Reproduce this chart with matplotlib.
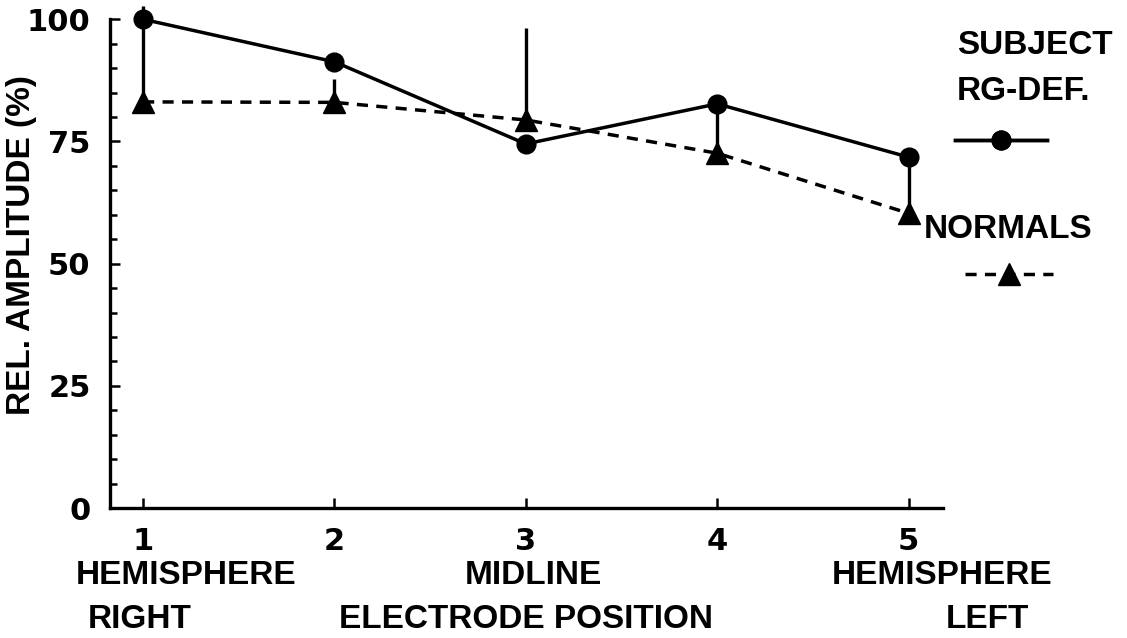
import matplotlib
matplotlib.use("Agg")
import matplotlib.pyplot as plt
import numpy as np

# electrode positions and relative amplitudes (%)
positions = [1, 2, 3, 4, 5]
subject = [100, 91.3, 74.5, 82.7, 71.8]
normals = [83.1, 83.0, 79.4, 72.6, 60.3]
normals_sd = [19.6, 4.8, 18.8, 10.1, 11.5]  # upper bars only
yticks = [0, 25, 50, 75, 100]

plt.rcParams['font.family'] = ['Liberation Sans', 'DejaVu Sans']
plt.rcParams['font.weight'] = 'bold'

fig = plt.figure(figsize=(11.27, 6.38), dpi=100)
ax = fig.add_axes([110 / 1127, 1 - 508 / 638, 833 / 1127, 488.7 / 638])

# error bars of the normals (upward only)
ax.errorbar(positions, normals, yerr=[np.zeros(len(normals)), normals_sd],
            fmt='none', ecolor='black', elinewidth=2.4, capsize=0,
            clip_on=False, zorder=2)

l_subj, = ax.plot(positions, subject, '-', color='black', lw=2.5,
                  marker='o', ms=13.5, clip_on=False, zorder=3)
l_norm, = ax.plot(positions, normals, color='black', lw=2.5,
                  dashes=(3.2, 2.4), marker='^', ms=16,
                  clip_on=False, zorder=3)

ax.set_xlim(0.827, 5.18)
ax.set_ylim(0, 100)
ax.spines['top'].set_visible(False)
ax.spines['right'].set_visible(False)
ax.spines['left'].set_linewidth(2.4)
ax.spines['bottom'].set_linewidth(2.4)

ax.set_xticks(positions)
ax.set_yticks(yticks)
ax.set_yticks(np.arange(0, 101, 5), minor=True)
ax.tick_params(axis='both', which='major', direction='in', length=7.5,
               width=1.8, labelsize=22)
ax.tick_params(axis='y', which='minor', direction='in', length=5, width=1.8)
ax.tick_params(axis='y', pad=14)
ax.tick_params(axis='x', pad=14)
for lab in ax.get_xticklabels() + ax.get_yticklabels():
    lab.set_family('DejaVu Sans')
    lab.set_fontweight('bold')

fs = 24
tr = ax.get_xaxis_transform()
ax.text(1.225, -0.139, 'HEMISPHERE', transform=tr, ha='center', va='center', fontsize=fs)
ax.text(3.04, -0.139, 'MIDLINE', transform=tr, ha='center', va='center', fontsize=fs)
ax.text(5.175, -0.139, 'HEMISPHERE', transform=tr, ha='center', va='center', fontsize=fs)
ax.text(0.98, -0.229, 'RIGHT', transform=tr, ha='center', va='center', fontsize=fs)
ax.text(3.0, -0.229, 'ELECTRODE POSITION', transform=tr, ha='center', va='center', fontsize=fs)
ax.text(5.41, -0.229, 'LEFT', transform=tr, ha='center', va='center', fontsize=fs)

fig.text(22 / 1127, 1 - 245 / 638, 'REL. AMPLITUDE (%)', rotation=90,
         ha='center', va='center', fontsize=fs)

# legend
fig.text(1035 / 1127, 1 - 46 / 638, 'SUBJECT', ha='center', va='center', fontsize=fs)
fig.text(957 / 1127, 1 - 91 / 638, 'RG-DEF.', ha='left', va='center', fontsize=fs)
fig.text(1008 / 1127, 1 - 229 / 638, 'NORMALS', ha='center', va='center', fontsize=fs)

leg1 = fig.legend([l_subj], [''], loc='center', bbox_to_anchor=(1001 / 1127, 1 - 143 / 638),
                  frameon=False, handlelength=2.76, handletextpad=0, borderpad=0,
                  borderaxespad=0, numpoints=1, prop={'size': fs})
leg2 = fig.legend([l_norm], [''], loc='center', bbox_to_anchor=(1009 / 1127, 1 - 277 / 638),
                  frameon=False, handlelength=2.64, handletextpad=0, borderpad=0,
                  borderaxespad=0, numpoints=1, prop={'size': fs})
fig.add_artist(leg1)

fig.savefig('out.png', dpi=100)
